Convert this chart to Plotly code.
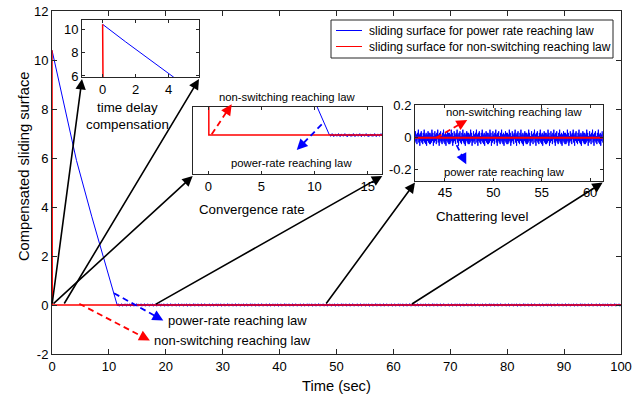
import numpy as np
import plotly.graph_objects as go

W, H = 644, 402
FONT = "Liberation Sans, Arial, Helvetica, sans-serif"
AXC = "#262626"
BLUE = "#0000ff"
RED = "#ff0000"

# ---- data -------------------------------------------------------------
# power-rate reaching law: reaching phase, then chattering about s = 0
t_power = [0.0, 1.4, 4.3, 7.0, 9.0, 11.4]
s_power = [10.4, 8.9, 5.9, 3.6, 1.95, 0.0]
chatter_step = 0.05
chatter_pattern = [0.03, -0.04, 0.02, -0.03, 0.05, -0.02, 0.03, -0.05, 0.01, -0.03,
                   0.04, -0.02, 0.02, -0.04, 0.03, -0.01, 0.05, -0.03, 0.02, -0.05,
                   0.03, -0.02, 0.04, -0.03, 0.01, -0.04, 0.03, -0.02, 0.05, -0.03,
                   0.02, -0.04, 0.03, -0.05, 0.02, -0.02, 0.04, -0.03, 0.03, -0.04]
# non-switching reaching law: immediate compensation, no chattering
t_nonsw = [0.0, 0.05, 100.0]
s_nonsw = [10.4, 0.0, 0.0]

series_names = ["sliding surface for power rate reaching law",
                "sliding surface for non-switching reaching law"]

main_xticks = [0, 10, 20, 30, 40, 50, 60, 70, 80, 90, 100]
main_yticks = [-2, 0, 2, 4, 6, 8, 10, 12]
delay_xticks = [0, 2, 4]
delay_yticks = [6, 8, 10]
conv_xticks = [0, 5, 10, 15]
chat_xticks = [45, 50, 55, 60]
chat_yticks = [-0.2, 0, 0.2]

t_chat = np.arange(t_power[-1] + chatter_step, 100 + 1e-9, chatter_step)
s_chat = np.resize(np.array(chatter_pattern), t_chat.size)
t_blue = np.concatenate([t_power, t_chat])
s_blue = np.concatenate([s_power, s_chat])

# ---- axes geometry (pixel boxes and ranges) ---------------------------
AX = {
    "main": dict(px=(52, 621), py=(11, 354), xr=(0, 100), yr=(-2, 12)),
    "delay": dict(px=(82, 199), py=(20, 77), xr=(-1.25, 5.84), yr=(5.91, 10.77)),
    "conv": dict(px=(192.7, 382.3), py=(106.7, 174), xr=(-1.47, 16.37), yr=(-1.3, 0.95)),
    "chat": dict(px=(415, 602.7), py=(105, 180.5), xr=(41.9, 61.3), yr=(-0.267, 0.204)),
}


def to_px(name, x, y):
    a = AX[name]
    px = a["px"][0] + (x - a["xr"][0]) / (a["xr"][1] - a["xr"][0]) * (a["px"][1] - a["px"][0])
    py = a["py"][1] - (y - a["yr"][0]) / (a["yr"][1] - a["yr"][0]) * (a["py"][1] - a["py"][0])
    return px, py


def paper(px, py):
    return px / W, 1 - py / H


def dom(name):
    a = AX[name]
    return [a["px"][0] / W, a["px"][1] / W], [1 - a["py"][1] / H, 1 - a["py"][0] / H]


fig = go.Figure()

axis_ids = {"main": ("x", "y"), "delay": ("x2", "y2"), "conv": ("x3", "y3"), "chat": ("x4", "y4")}
for name, (xa, ya) in axis_ids.items():
    fig.add_trace(go.Scatter(x=t_blue, y=s_blue, mode="lines", xaxis=xa, yaxis=ya,
                             line=dict(color=BLUE, width=1),
                             name=series_names[0], showlegend=False))
    fig.add_trace(go.Scatter(x=t_nonsw, y=s_nonsw, mode="lines", xaxis=xa, yaxis=ya,
                             line=dict(color=RED, width=2 if name == "chat" else 1.5),
                             name=series_names[1], showlegend=False))


def axis_style(name, tickvals, ticklen, show_labels=True, size=13):
    a = AX[name]
    return dict(
        range=list(a["xr"]), showgrid=False, zeroline=False,
        showline=True, mirror="ticks", linecolor=AXC, linewidth=1,
        ticks="inside" if tickvals else "", ticklen=ticklen, tickcolor=AXC, tickwidth=1,
        tickvals=tickvals, ticktext=[f"{v:g}" for v in tickvals],
        showticklabels=show_labels, tickfont=dict(family=FONT, size=size, color="#000"),
    )


def yaxis_style(name, tickvals, ticklen, show_labels=True, size=13):
    d = axis_style(name, tickvals, ticklen, show_labels, size)
    d["range"] = list(AX[name]["yr"])
    return d


layout = dict(
    width=W, height=H, margin=dict(l=0, r=0, t=0, b=0, autoexpand=False),
    paper_bgcolor="white", plot_bgcolor="white",
    font=dict(family=FONT, size=13, color="#000"),
    showlegend=False,
)

for name, (xa, ya), xt, yt, tl, ylab in [
    ("main", ("x", "y"), main_xticks, main_yticks, 5, True),
    ("delay", ("x2", "y2"), delay_xticks, delay_yticks, 3, True),
    ("conv", ("x3", "y3"), conv_xticks, [], 3, False),
    ("chat", ("x4", "y4"), chat_xticks, chat_yticks, 3, True),
]:
    xd, yd = dom(name)
    xkey = "xaxis" if xa == "x" else "xaxis" + xa[1:]
    ykey = "yaxis" if ya == "y" else "yaxis" + ya[1:]
    xs = axis_style(name, xt, tl)
    xs.update(domain=xd, anchor=ya)
    ys = yaxis_style(name, yt, tl, ylab)
    ys.update(domain=yd, anchor=xa)
    layout[xkey] = xs
    layout[ykey] = ys

fig.update_layout(**layout)

annotations = []
shapes = []


def text(px, py, s, size=13, xanchor="center", angle=0):
    x, y = paper(px, py)
    annotations.append(dict(x=x, y=y, xref="paper", yref="paper", text=s, showarrow=False,
                            xanchor=xanchor, yanchor="middle", textangle=angle,
                            font=dict(family=FONT, size=size, color="#000")))


def arrow(head, tail, color, width=1.5, size=1.2):
    hx, hy = head
    tx, ty = tail
    x, y = paper(hx, hy)
    annotations.append(dict(x=x, y=y, xref="paper", yref="paper", text="",
                            showarrow=True, arrowhead=2, arrowsize=size, arrowwidth=width,
                            arrowcolor=color, ax=tx - hx, ay=ty - hy,
                            axref="pixel", ayref="pixel", standoff=0, startstandoff=0))


def dashed_arrow(name, tail_xy, head_xy, color):
    tx, ty = to_px(name, *tail_xy)
    hx, hy = to_px(name, *head_xy)
    L = np.hypot(hx - tx, hy - ty)
    ux, uy = (hx - tx) / L, (hy - ty) / L
    ex, ey = hx - 5 * ux, hy - 5 * uy
    x0, y0 = paper(tx, ty)
    x1, y1 = paper(ex, ey)
    shapes.append(dict(type="line", xref="paper", yref="paper", x0=x0, y0=y0, x1=x1, y1=y1,
                       line=dict(color=color, width=1.8, dash="6px,4px")))
    arrow((hx, hy), (hx - 9 * ux, hy - 9 * uy), color, width=1.8, size=1.2)


# zoom lines from the main trace to the inset corners
zoom_links = [
    (0, "delay", "left"), (2, "delay", "right"),
    (0, "conv", "left"), (18, "conv", "right"),
    (48, "chat", "left"), (63, "chat", "right"),
]
for t0, name, side in zoom_links:
    tail = to_px("main", t0, 0)
    a = AX[name]
    corner = (a["px"][0] if side == "left" else a["px"][1], a["py"][1] + 2)
    arrow(corner, tail, "#000", width=1.6, size=1.3)

# reaching-law call-outs on the main axes
dashed_arrow("main", (10.9, 0.48), (19.56, -0.63), BLUE)
dashed_arrow("main", (4.8, 0.05), (17.2, -1.45), RED)
px, py = to_px("main", 20.0, -0.63)
text(px, py, "power-rate reaching law", 13, "left")
px, py = to_px("main", 17.5, -1.45)
text(px, py, "non-switching reaching law", 13, "left")

# convergence-rate inset call-outs
dashed_arrow("conv", (0.32, 0.03), (2.2, 1.03), RED)
dashed_arrow("conv", (10.67, 0.36), (8.32, -0.5), BLUE)
text(*to_px("conv", 7.38, 1.28), "non-switching reaching law", 11.3)
text(*to_px("conv", 7.85, -0.94), "power-rate reaching law", 11.3)

# chattering inset call-outs
dashed_arrow("chat", (44.1, 0.0), (47.3, 0.11), RED)
dashed_arrow("chat", (46.2, -0.046), (47.2, -0.166), BLUE)
text(*to_px("chat", 52.1, 0.1625), "non-switching reaching law", 11.3)
text(*to_px("chat", 51.2, -0.2125), "power rate reaching law", 11.3)

# inset captions and main axis titles
text(127, 107, "time delay", 13.3)
text(127, 125, "compensation", 13.3)
text(251.7, 210, "Convergence rate", 13.3)
text(481.7, 216.7, "Chattering level", 13.3)
text(336.5, 386, "Time (sec)", 14.7)
text(24, 167, "Compensated sliding surface", 14.7, angle=-90)

# legend box in the upper right corner
LEG = dict(x0=331, x1=613, y0=20, y1=58, rows=(30.5, 46.5), line=(336, 362), text_x=367)
bx0, by0 = paper(LEG["x0"], LEG["y1"])
bx1, by1 = paper(LEG["x1"], LEG["y0"])
shapes.append(dict(type="rect", xref="paper", yref="paper", x0=bx0, y0=by0, x1=bx1, y1=by1,
                   fillcolor="white", line=dict(color=AXC, width=1)))
for row, color, label in zip(LEG["rows"], [BLUE, RED], series_names):
    lx0, ly = paper(LEG["line"][0], row)
    lx1, _ = paper(LEG["line"][1], row)
    shapes.append(dict(type="line", xref="paper", yref="paper", x0=lx0, y0=ly, x1=lx1, y1=ly,
                       line=dict(color=color, width=1)))
    text(LEG["text_x"], row, label, 12, "left")

fig.update_layout(annotations=annotations, shapes=shapes)
fig.write_html("out.html")
